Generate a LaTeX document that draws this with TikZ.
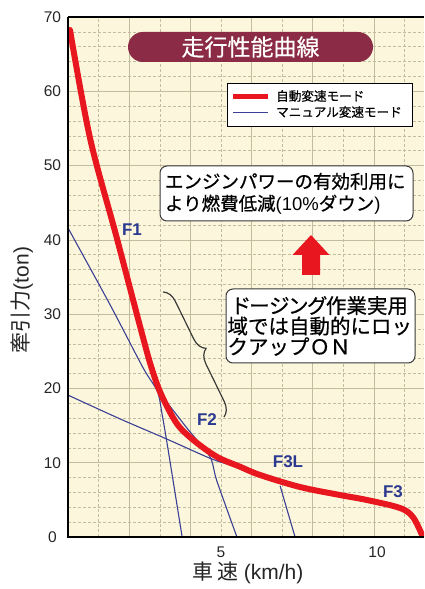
\documentclass[tikz,border=0pt]{standalone}
\usepackage{fontspec}
\setmainfont{Liberation Sans}
\newfontfamily\cjk{Noto Sans CJK JP}
\newfontfamily\cjkt[FakeBold=0.4]{Noto Sans CJK JP}
\newfontfamily\cjkb[FakeBold=0.6]{Noto Sans CJK JP}
\newfontfamily\cjkpb[FakeBold=0.6,RawFeature=+palt]{Noto Sans CJK JP}
\usetikzlibrary{decorations.pathreplacing}
\definecolor{plotbg}{HTML}{FCF7DC}
\definecolor{gridcol}{HTML}{C4BC9E}
\definecolor{titlecol}{HTML}{8C2B45}
\definecolor{autored}{HTML}{E8171F}
\definecolor{manblue}{HTML}{3B3F95}
\definecolor{labblue}{HTML}{2B3990}
\definecolor{boxline}{HTML}{3A3A3A}
\tikzset{
  gridmin/.style={gridcol, line width=0.6pt, dash pattern=on 3pt off 2pt},
  gridmaj/.style={gridcol, line width=0.7pt},
  autocurve/.style={autored, line width=6pt, line cap=round, line join=round},
  mancurve/.style={manblue, line width=1.1pt},
  flabel/.style={labblue, font=\fontsize{17}{17}\selectfont\bfseries, inner sep=0pt},
  ticklab/.style={font=\fontsize{15.5}{15.5}\selectfont, text=black!85, inner sep=0pt},
  notebox/.style={draw=boxline, line width=1pt, fill=white, rounded corners=7pt},
  axisline/.style={black, line width=2.2pt},
}
\begin{document}
\begin{tikzpicture}[x=1pt,y=1pt]
\useasboundingbox (0,0) rectangle (424,589);
\fill[white] (0,0) rectangle (424,589);
% ---- plot in data coordinates ----
\begin{scope}[shift={(68pt,52pt)}, x=30.6pt, y=7.4286pt]
  \fill[plotbg] (0,0) rectangle (11.64,70);
  \foreach \t in {2,4,6,8,12,14,16,18,22,24,26,28,32,34,36,38,42,44,46,48,52,54,56,58,62,64,66,68}
    \draw[gridmin] (0,\t) -- (11.64,\t);
  \foreach \t in {10,20,30,40,50,60}
    \draw[gridmaj] (0,\t) -- (11.64,\t);
  \foreach \v in {1,3,5,7,9,11}
    \draw[gridmin] (\v,0) -- (\v,70);
  \foreach \v in {2,4,6,8,10}
    \draw[gridmaj] (\v,0) -- (\v,70);
  \begin{scope}
    \clip (0,0) rectangle (11.64,70);
    % manual mode curves
    \draw[mancurve] plot[smooth, tension=0.5] coordinates {(0,41.6) (1.37,31.3) (2.45,22.8) (2.92,19.6) (3.08,16.4) (3.22,13.05) (3.43,7.7) (3.73,0)};
    \draw[mancurve] plot[smooth, tension=0.4] coordinates {(3.05,19.1) (3.88,14.7) (4.64,10.8) (4.86,7.6) (5.52,0)};
    \draw[mancurve] plot[smooth, tension=0.5] coordinates {(0,19.1) (1.7,15.9) (3.22,13.2) (4.64,10.6) (5.3,9.7)};
    \draw[mancurve] (6.93,6.9) -- (7.42,0);
    % automatic mode curve
    \draw[autocurve] plot[smooth, tension=0.55] coordinates {(0.065,68.25) (0.719,53.71) (1.569,40.65) (2.386,27.87) (2.712,23.02) (3.039,19.25) (3.552,15.30) (4.095,13.06) (4.859,10.81) (5.621,9.46) (6.275,8.35) (7.582,6.73) (8.889,5.65) (9.771,4.98) (10.85,3.90) (11.27,2.69) (11.57,0.27)};
  \end{scope}
  % axes
  \draw[axisline] (0,70) -- (11.64,70);
  \draw[axisline] (11.64,0) -- (0,0) -- (0,70);
  % tick labels
  \foreach \t in {0,10,...,70}
    \node[ticklab] (yt\t) at (-0.507,\t) {\t};
  \node[ticklab] (xt5) at (5,-2.0) {5};
  \node[ticklab] (xt10) at (10.1,-2.0) {10};
\end{scope}
% ---- curve labels ----
\node[flabel] (f1) at (132,359) {F1};
\node[flabel] (f2) at (207,169) {F2};
\node[flabel] (f3l) at (288,127) {F3L};
\node[flabel] (f3) at (393,97) {F3};
% ---- title ----
\node[fill=titlecol, rounded corners=15pt, minimum width=245pt, minimum height=30pt, inner sep=0pt,
      text=white, font=\cjkt\fontsize{23}{23}\selectfont] (title) at (250.5,542) {走行性能曲線};
% ---- legend ----
\node[draw=black, line width=0.9pt, fill=white, minimum width=185pt, minimum height=43pt, inner sep=0pt] (legend) at (319.5,484.5) {};
\coordinate (l1a) at (233,492);
\coordinate (l1b) at (268,492);
\coordinate (l2a) at (233,476);
\coordinate (l2b) at (268,476);
\draw[autored, line width=5pt] (l1a) -- (l1b);
\draw[manblue, line width=1pt] (l2a) -- (l2b);
\node[anchor=west, inner sep=0pt, font=\cjkb\fontsize{12.6}{12.6}\selectfont] (leg1) at (276,493) {自動変速モード};
\node[anchor=west, inner sep=0pt, font=\cjkb\fontsize{12.6}{12.6}\selectfont] (leg2) at (276,477) {マニュアル変速モード};
% ---- note boxes ----
\node[notebox, minimum width=253pt, minimum height=55pt, inner xsep=5pt, inner ysep=0pt,
      text width=243pt, align=left, font=\fontsize{18.5}{22}\selectfont] (note1) at (286.5,395.5)
  {{\cjkb エンジンパワーの有効利用に}\\{\cjkb より燃費低減}(10\%{\cjkb ダウン})};
\node[notebox, minimum width=189pt, minimum height=74pt, inner xsep=1.5pt, inner ysep=0pt,
      text width=186pt, align=left, font=\fontsize{20.5}{20.5}\selectfont] (note2) at (320.5,263)
  {\makebox[\linewidth][c]{\cjkpb ドージング作業実用}\\{\cjkb 域では自動的にロッ}\\{\cjkb クアップＯＮ}};
% ---- red arrow ----
\fill[autored] (311,354) -- (329.5,334) -- (320,334) -- (320,314) -- (302,314) -- (302,334) -- (292.5,334) -- cycle;
% ---- brace ----
\coordinate (braceTop) at (163,297);
\coordinate (braceBot) at (224,172);
\draw[boxline, line width=1.2pt, decorate, decoration={brace, amplitude=14pt}] (braceTop) -- (braceBot);
% ---- axis titles ----
\node[rotate=90, inner sep=0pt, font=\fontsize{21}{21}\selectfont, text=black!85] (ylab) at (22,289) {{\cjk 牽引力}(ton)};
\node[inner sep=0pt, font=\fontsize{21}{21}\selectfont, text=black!85] (xlab) at (248,16) {{\cjk 車\,速} (km/h)};
\end{tikzpicture}
\end{document}
